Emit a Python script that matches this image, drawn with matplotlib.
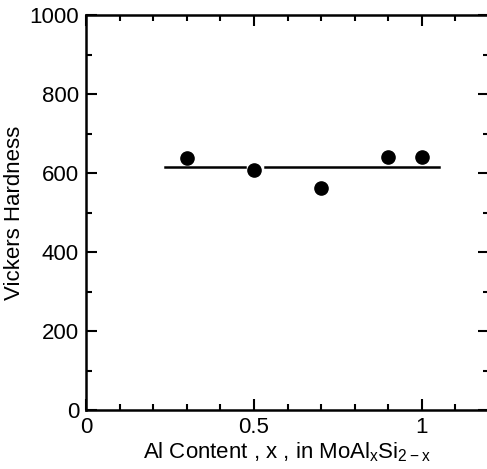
import matplotlib.pyplot as plt
from matplotlib.ticker import MultipleLocator

plt.rcParams['font.family'] = ['Liberation Sans', 'DejaVu Sans']

al_content = [0.3, 0.5, 0.7, 0.9, 1.0]
hardness = [637, 609, 562, 641, 641]
# average line, broken around the x = 0.5 point
mean_segments = [([0.235, 0.474], [615, 615]), ([0.533, 1.05], [615, 615])]
xticks = [0, 0.5, 1]
xtick_labels = ['0', '0.5', '1']
yticks = [0, 200, 400, 600, 800, 1000]

fig = plt.figure(figsize=(4.87, 4.69), dpi=100)
ax = fig.add_axes([0.1766, 0.1258, 0.8275, 0.842])

for xs, ys in mean_segments:
    ax.plot(xs, ys, color='black', lw=1.8, zorder=1)
ax.plot(al_content, hardness, 'o', ms=9.5, color='black', zorder=2)

ax.set_xlim(0, 1.2)
ax.set_ylim(0, 1000)
ax.xaxis.set_minor_locator(MultipleLocator(0.1))
ax.yaxis.set_minor_locator(MultipleLocator(100))
ax.set_xticks(xticks)
ax.set_xticklabels(xtick_labels)
ax.set_yticks(yticks)
ax.set_yticklabels([str(v) for v in yticks])

ax.tick_params(which='both', direction='in', top=True, right=True, width=1.5, labelsize=16, pad=5)
ax.tick_params(which='major', length=8)
ax.tick_params(which='minor', length=4)
for s in ax.spines.values():
    s.set_linewidth(1.8)

ax.set_xlabel('Al Content , x , in MoAl$_\\mathregular{x}$Si$_\\mathregular{2-x}$', fontsize=16, labelpad=2)
ax.set_ylabel('Vickers Hardness', fontsize=16, labelpad=3)

fig.savefig('out.png', dpi=100)
